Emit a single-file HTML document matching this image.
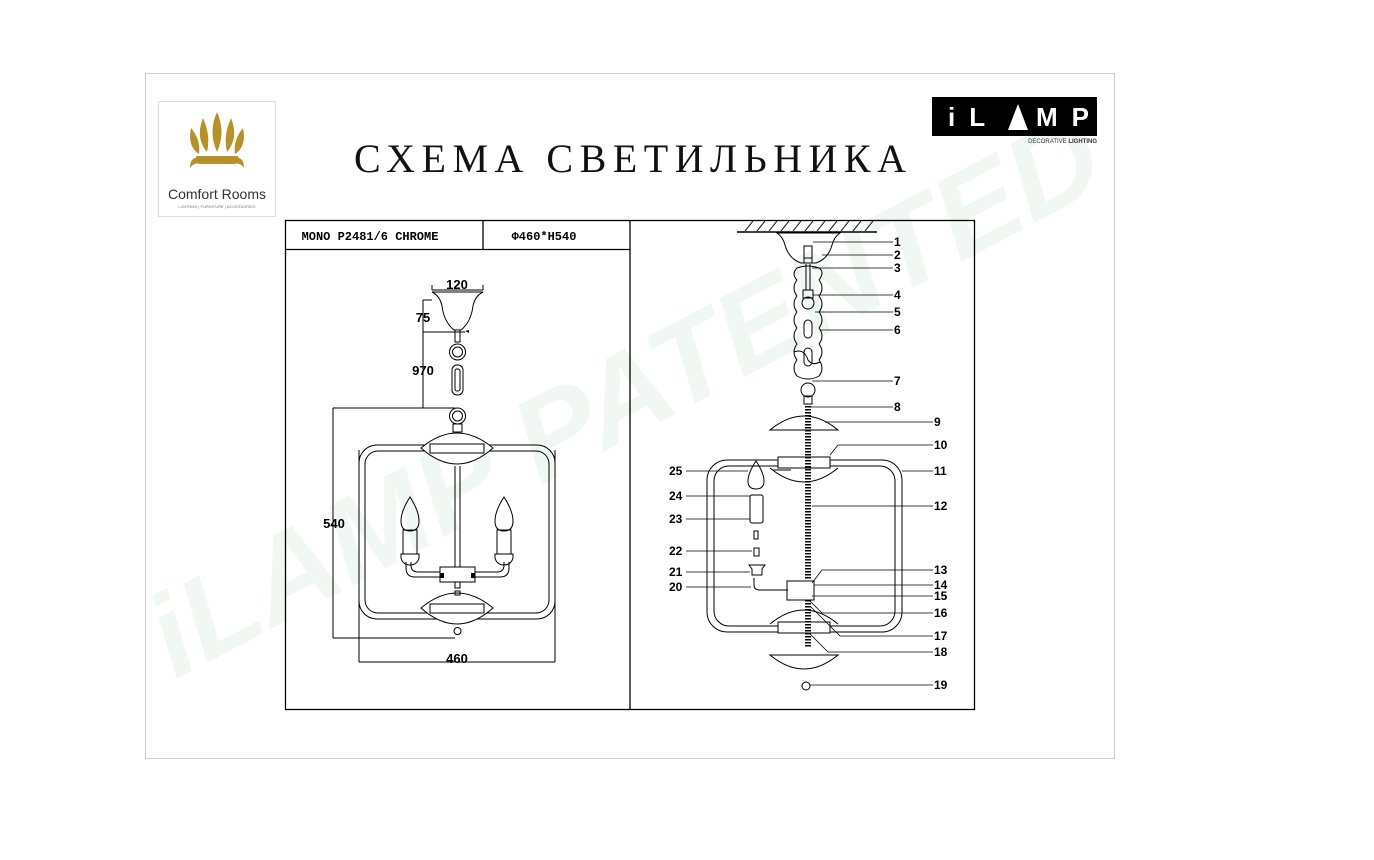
<!DOCTYPE html>
<html><head><meta charset="utf-8"><style>
html,body{margin:0;padding:0;background:#fff;width:1374px;height:860px;overflow:hidden}
svg{display:block;font-family:"Liberation Serif",serif}
.b{font-family:"Liberation Sans",sans-serif;font-weight:bold;font-size:12px}
</style></head><body>
<svg width="1374" height="860" viewBox="0 0 1374 860" xmlns="http://www.w3.org/2000/svg">
<rect x="145.5" y="73.5" width="969" height="685" fill="#fff" stroke="#ccc"/>
<!-- watermark -->
<text x="0" y="0" transform="translate(175,680) rotate(-28)" font-family="Liberation Sans" font-weight="bold" font-style="italic" font-size="118" fill="#f1f8f3" textLength="1060" lengthAdjust="spacingAndGlyphs">iLAMP PATENTED</text>
<!-- comfort rooms logo -->
<rect x="158.5" y="101.5" width="117" height="115" fill="none" stroke="#ddd"/>
<g fill="#b8902a">
<path d="M217 112 q9 20 0 40 q-9 -20 0 -40z"/>
<path d="M203 118 q8 18 4 34 q-12 -14 -4 -34z"/><path d="M231 118 q-8 18 -4 34 q12 -14 4 -34z"/>
<path d="M191 128 q10 12 8 26 q-12 -8 -8 -26z"/><path d="M243 128 q-10 12 -8 26 q12 -8 8 -26z"/>
<path d="M196 156 h42 v4 h-42z"/><path d="M190 168 q0 -12 10 -10 h34 q10 -2 10 10 q-4 -6 -10 -4 h-34 q-6 -2 -10 4z"/>
</g>
<text x="217" y="199" text-anchor="middle" font-family="Liberation Sans" font-size="14" fill="#333">Comfort Rooms</text>
<text x="217" y="208" text-anchor="middle" font-family="Liberation Sans" font-size="4" fill="#777">LIGHTING | FURNITURE | ACCESSORIES</text>
<!-- ilamp logo -->
<rect x="932" y="97" width="165" height="39" fill="#000"/>
<text x="948" y="126" font-family="Liberation Sans" font-weight="bold" font-size="26" fill="#fff" letter-spacing="14">iL</text>
<path d="M1008 130 l10 -26 l10 26z" fill="#fff"/>
<text x="1036" y="126" font-family="Liberation Sans" font-weight="bold" font-size="26" fill="#fff" letter-spacing="14">MP</text>
<text x="1097" y="143" text-anchor="end" font-family="Liberation Sans" font-size="6" fill="#333">DECORATIVE <tspan font-weight="bold">LIGHTING</tspan></text>
<!-- title -->
<text x="630" y="172" text-anchor="middle" font-size="40" fill="#111" textLength="552" lengthAdjust="spacing">СХЕМА СВЕТИЛЬНИКА</text>
<!-- table -->
<g fill="none" stroke="#000" stroke-width="1.3">
<rect x="285.5" y="220.5" width="689" height="489"/>
<line x1="630" y1="220" x2="630" y2="710"/>
<line x1="285" y1="249.5" x2="630" y2="249.5"/>
<line x1="483" y1="220" x2="483" y2="249"/>
</g>
<text x="370" y="240" text-anchor="middle" font-family="Liberation Mono" font-weight="bold" font-size="12">MONO P2481/6 CHROME</text>
<text x="544" y="240" text-anchor="middle" font-family="Liberation Mono" font-weight="bold" font-size="12">Φ460*H540</text>
<!-- LEFT DRAWING -->
<g fill="none" stroke="#000" stroke-width="1">
<path d="M432 290 v-5 M483 290 v-5 M432 290 h51"/>
<path d="M432 292 h51 q-8 4 -10 14 q-2 16 -12 24 h-7 q-10 -8 -12 -24 q-2 -10 -10 -14z"/>
<path d="M423 300 h9 M423 300 v108 M423 332 h42 M333 408 h122 M333 408 v230 M333 638 h122"/>
<path d="M359 450 v212 M555 450 v212 M359 662 h196"/>
<rect x="455" y="330" width="5" height="12"/>
<circle cx="457.5" cy="352" r="8"/><circle cx="457.5" cy="352" r="5"/>
<rect x="452" y="365" width="11" height="30" rx="5"/><rect x="455" y="369" width="5" height="22" rx="2"/>
<circle cx="457.5" cy="416" r="8"/><circle cx="457.5" cy="416" r="5"/>
<rect x="453" y="424" width="9" height="8"/>
<rect x="359" y="445" width="196" height="174" rx="18"/>
<rect x="365" y="451" width="184" height="162" rx="13"/>
<path d="M421 448 q36 -30 72 0 q-36 32 -72 0z" fill="#fff"/>
<rect x="430" y="444" width="54" height="9" fill="#fff"/>
<path d="M421 608 q36 -30 72 0 q-36 32 -72 0z" fill="#fff"/>
<rect x="430" y="604" width="54" height="9" fill="#fff"/>
<circle cx="457.5" cy="631" r="3.5"/>
<line x1="455" y1="466" x2="455" y2="567"/><line x1="460" y1="466" x2="460" y2="567"/>
<rect x="440" y="567" width="35" height="15"/>
<rect x="455" y="582" width="5" height="6"/><rect x="455" y="591" width="5" height="4"/>
<path d="M440 572 h-22 q-7 0 -7 -7 v-3 M440 577 h-25 q-9 0 -9 -9 v-6"/>
<path d="M475 572 h22 q7 0 7 -7 v-3 M475 577 h25 q9 0 9 -9 v-6"/>
<path d="M410 497 q-9 14 -9 24 q0 10 9 10 q9 0 9 -10 q0 -10 -9 -24z"/>
<path d="M504 497 q-9 14 -9 24 q0 10 9 10 q9 0 9 -10 q0 -10 -9 -24z"/>
<rect x="403" y="530" width="14" height="24"/><rect x="497" y="530" width="14" height="24"/>
<path d="M401 554 h18 v4 q-2 7 -9 7 q-7 0 -9 -7z M495 554 h18 v4 q-2 7 -9 7 q-7 0 -9 -7z"/>
</g>
<g fill="#000"><rect x="440" y="573" width="4" height="5"/><rect x="471" y="573" width="4" height="5"/><path d="M465 331 l4 -1 v3z"/></g>
<g class="b" style="font-size:13px">
<text x="457" y="289" text-anchor="middle">120</text>
<text x="423" y="322" text-anchor="middle">75</text>
<text x="423" y="375" text-anchor="middle">970</text>
<text x="334" y="528" text-anchor="middle">540</text>
<text x="457" y="663" text-anchor="middle">460</text>
</g>
<!-- RIGHT DRAWING -->
<g fill="none" stroke="#000" stroke-width="1">
<line x1="737" y1="232" x2="877" y2="232" stroke-width="1.5"/>
<path d="M745 231 l8 -10 M757 231 l8 -10 M769 231 l8 -10 M781 231 l8 -10 M793 231 l8 -10 M805 231 l8 -10 M817 231 l8 -10 M829 231 l8 -10 M841 231 l8 -10 M853 231 l8 -10 M865 231 l8 -10"/>
<path d="M777 233 h63 q-6 4 -8 12 q-4 14 -16 18 h-15 q-12 -4 -16 -18 q-2 -8 -8 -12z"/>
<rect x="804" y="246" width="8" height="12"/><rect x="804" y="258" width="8" height="5"/>
<line x1="806" y1="264" x2="806" y2="290"/><line x1="810" y1="264" x2="810" y2="290"/>
<path d="M797 268 q-6 6 0 12 q-6 8 0 16 q-6 8 0 16 q-6 8 0 16 q-6 8 0 16 q-6 8 0 16 q-6 8 0 16 q5 3 11 3 q6 0 11 -3 q6 -8 0 -16 q6 -8 0 -16 q6 -8 0 -16 q6 -8 0 -16 q6 -8 0 -16 q6 -8 0 -16 q6 -8 0 -12 q-11 -4 -22 0z"/>
<rect x="803" y="290" width="10" height="8"/><circle cx="808" cy="303" r="6"/>
<rect x="804" y="320" width="8" height="18" rx="4"/><rect x="804" y="348" width="8" height="18" rx="4"/>
<path d="M794 352 q10 -4 14 8 q4 6 12 2"/>
<circle cx="808" cy="390" r="7"/><rect x="804" y="396" width="8" height="8"/>
<path d="M770 430 q34 -28 68 0z" fill="#fff"/>
<rect x="707" y="460" width="195" height="172" rx="20"/>
<rect x="714" y="466" width="181" height="160" rx="15"/>
<path d="M770 468 q34 28 68 0" fill="#fff"/>
<rect x="778" y="457" width="52" height="11" fill="#fff"/>
<path d="M770 624 q34 -28 68 0" fill="#fff"/>
<rect x="778" y="622" width="52" height="11" fill="#fff"/>
<path d="M770 655 q34 28 68 0z" fill="#fff"/>
<circle cx="806" cy="686" r="4"/>
<path d="M756 461 q-8 12 -8 20 q0 8 8 8 q8 0 8 -8 q0 -8 -8 -20z"/>
<rect x="750" y="495" width="13" height="28" rx="2"/>
<rect x="754" y="531" width="4" height="8"/><rect x="754" y="548" width="5" height="8"/>
<path d="M749 565 h16 l-3 4 v6 h-10 v-6z"/>
<path d="M754 578 v7 q0 5 6 5 h28"/>
<rect x="787" y="581" width="27" height="19"/>
<path d="M773 470 h18"/>
</g>
<g stroke="#000" stroke-width="1.2"><line x1="808" y1="406" x2="808" y2="580" stroke-dasharray="1.5 1.5" stroke-width="6"/><line x1="808" y1="600" x2="808" y2="648" stroke-dasharray="1.5 1.5" stroke-width="6"/></g>
<g stroke="#000" stroke-width="0.8" fill="none">
<path d="M813 242 h80 M822 255 h71 M812 268 h81 M813 295 h80 M815 312 h78 M820 330 h73 M812 381 h81 M810 407 h83 M825 422 h108 M830 455 l8 -10 h95 M902 471 h31 M812 506 h121 M812 583 l10 -13 h111 M814 585 h119 M812 596 h121 M810 601 l12 12 h111 M810 606 l30 30 h93 M810 634 l18 18 h105 M810 685 h123"/>
<path d="M686 471 h62 M686 496 h64 M686 519 h64 M686 551 h66 M686 572 h64 M686 587 h65"/>
</g>
<g class="b">
<text x="894" y="246">1</text><text x="894" y="259">2</text><text x="894" y="272">3</text><text x="894" y="299">4</text><text x="894" y="316">5</text><text x="894" y="334">6</text><text x="894" y="385">7</text><text x="894" y="411">8</text>
<text x="934" y="426">9</text><text x="934" y="449">10</text><text x="934" y="475">11</text><text x="934" y="510">12</text><text x="934" y="574">13</text><text x="934" y="589">14</text><text x="934" y="600">15</text><text x="934" y="617">16</text><text x="934" y="640">17</text><text x="934" y="656">18</text><text x="934" y="689">19</text>
<text x="669" y="475">25</text><text x="669" y="500">24</text><text x="669" y="523">23</text><text x="669" y="555">22</text><text x="669" y="576">21</text><text x="669" y="591">20</text>
</g>
</svg>
</body></html>
